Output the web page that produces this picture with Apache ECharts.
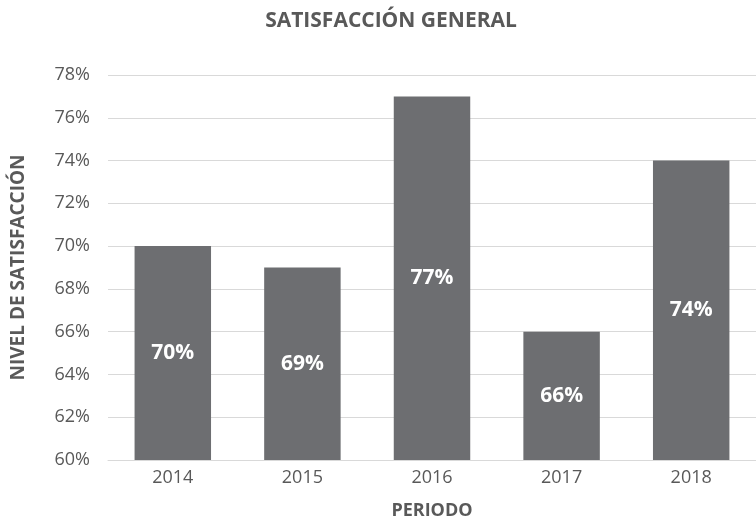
<!DOCTYPE html>
<html>
<head>
<meta charset="utf-8">
<script src="https://cdn.jsdelivr.net/npm/echarts@6/dist/echarts.min.js"></script>
<style>html,body{margin:0;padding:0;background:#fff}#c{width:756px;height:518px}</style>
</head>
<body>
<div id="c"></div>
<script>
var categories = ['2014', '2015', '2016', '2017', '2018'];
var values = [70, 69, 77, 66, 74];
var yTicks = [60, 62, 64, 66, 68, 70, 72, 74, 76, 78];

var chart = echarts.init(document.getElementById('c'));
var font = 'Open Sans';
chart.setOption({
  animation: false,
  title: {
    text: 'SATISFACCIÓN GENERAL',
    left: 386, top: 6, textAlign: 'center',
    textStyle: {fontFamily: font, fontSize: 21, fontWeight: 'bold', color: '#595959'}
  },
  grid: {left: 108, right: 0, top: 75, bottom: 58, containLabel: false, outerBoundsMode: 'none'},
  xAxis: {
    type: 'category', data: categories,
    name: 'PERIODO', nameLocation: 'middle', nameGap: 42,
    nameTextStyle: {fontFamily: font, fontSize: 18, fontWeight: 'bold', color: '#595959'},
    axisLine: {lineStyle: {color: '#d9d9d9', width: 1}},
    axisTick: {show: false},
    axisLabel: {fontFamily: font, fontSize: 18, color: '#595959', margin: 9}
  },
  yAxis: {
    type: 'value', min: yTicks[0], max: yTicks[yTicks.length - 1], interval: 2,
    name: 'NIVEL DE SATISFACCIÓN', nameLocation: 'middle', nameGap: 80,
    nameTextStyle: {fontFamily: font, fontSize: 19, fontWeight: 'bold', color: '#595959'},
    axisLine: {show: false}, axisTick: {show: false},
    axisLabel: {fontFamily: font, fontSize: 18, color: '#595959', margin: 18, formatter: '{value}%', padding: [0, 0, 7, 0]},
    splitLine: {lineStyle: {color: '#d9d9d9', width: 1}}
  },
  series: [{
    type: 'bar', data: values, barCategoryGap: '41%',
    itemStyle: {color: '#6d6e71'},
    label: {show: true, position: 'inside', formatter: '{c}%',
      fontFamily: font, fontSize: 21, fontWeight: 'bold', color: '#ffffff'}
  }]
});
</script>
</body>
</html>
